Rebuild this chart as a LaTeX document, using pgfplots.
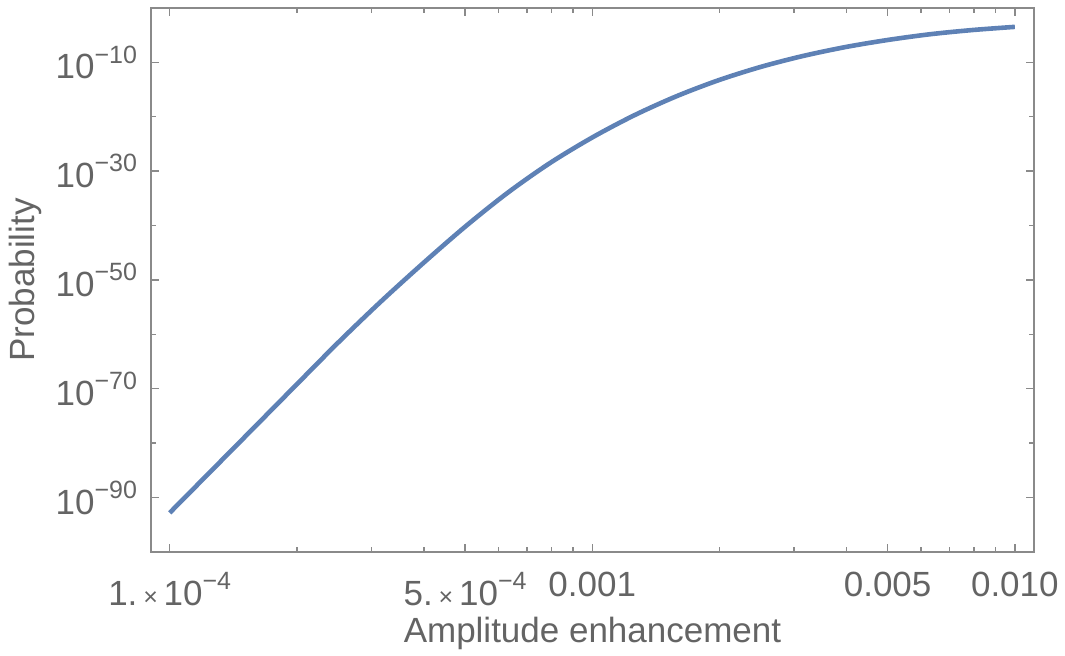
\documentclass[border=0pt]{standalone}
\usepackage{pgfplots}
\pgfplotsset{compat=1.18}
\usepackage{fontspec}
\setmainfont{Liberation Sans}
\definecolor{txt}{HTML}{646464}
\definecolor{frm}{HTML}{8A8A8A}
\definecolor{mblue}{HTML}{5E81B5}
\newcommand\sups[1]{\raisebox{0.45em}{\fontsize{12.5}{12.5}\selectfont #1}}
\begin{document}
\begin{tikzpicture}
\fontsize{17.5}{20}\selectfont
\begin{axis}[
  at={(0,0)}, anchor=south west,
  scale only axis, width=441.5pt, height=272pt,
  xmode=log, ymode=log,
  xmin=9.03e-5, xmax=1.11e-2,
  ymin=1e-100, ymax=1e0,
  axis line style={frm, line width=0.8pt},
  tick align=inside,
  major tick length=4pt, minor tick length=2.5pt,
  every tick/.style={frm, line width=0.7pt},
  xtick={1e-4,5e-4,1e-3,5e-3,1e-2},
  xticklabels={1.\,{\fontsize{12.5}{12.5}\selectfont ×}\,10\sups{−4}, 5.\,{\fontsize{12.5}{12.5}\selectfont ×}\,10\sups{−4}, 0.001, 0.005, 0.010},
  minor xtick={2e-4,3e-4,4e-4,6e-4,7e-4,8e-4,9e-4,2e-3,3e-3,4e-3,6e-3,7e-3,8e-3,9e-3},
  ytick={1e-10,1e-30,1e-50,1e-70,1e-90},
  yticklabels={10\sups{−10},10\sups{−30},10\sups{−50},10\sups{−70},10\sups{−90}},
  minor ytick={1e-20,1e-40,1e-60,1e-80},
  ticklabel style={text=txt, font=\fontsize{17.5}{20}\selectfont},
  xticklabel style={anchor=north, yshift=-4pt},
  yticklabel style={anchor=east, xshift=-1pt},
  xlabel={Amplitude enhancement},
  ylabel={Probability},
  every axis x label/.style={at={(axis description cs:0.5,0)}, anchor=center, yshift=-40.5pt, text=txt, font=\fontsize{17.5}{20}\selectfont},
  every axis y label/.style={at={(axis description cs:-0.1427,0.5)}, anchor=center, rotate=90, text=txt, font=\fontsize{17.5}{20}\selectfont},
]
\addplot[mblue, line width=2.3pt, smooth, line cap=butt] coordinates {
(1.000e-4, 1.585e-93)
(1.259e-4, 1.122e-85)
(1.585e-4, 7.94e-78)
(1.995e-4, 5.62e-70)
(2.512e-4, 3.98e-62)
(3.162e-4, 1.122e-54)
(3.981e-4, 1.259e-47)
(5.012e-4, 7.08e-41)
(6.310e-4, 1.122e-34)
(7.943e-4, 3.162e-29)
(1.000e-3, 1.585e-24)
(1.259e-3, 1.995e-20)
(1.585e-3, 6.31e-17)
(1.995e-3, 5.62e-14)
(2.512e-3, 1.585e-11)
(3.162e-3, 1.585e-9)
(3.981e-3, 6.76e-8)
(5.012e-3, 1.349e-6)
(6.310e-3, 1.514e-5)
(7.943e-3, 8.91e-5)
(1.000e-2, 3.39e-4)
};
\end{axis}
\pgfresetboundingbox
\path[use as bounding box] (-75.5pt,-52pt) rectangle (457pt,276pt);
\end{tikzpicture}
\end{document}
